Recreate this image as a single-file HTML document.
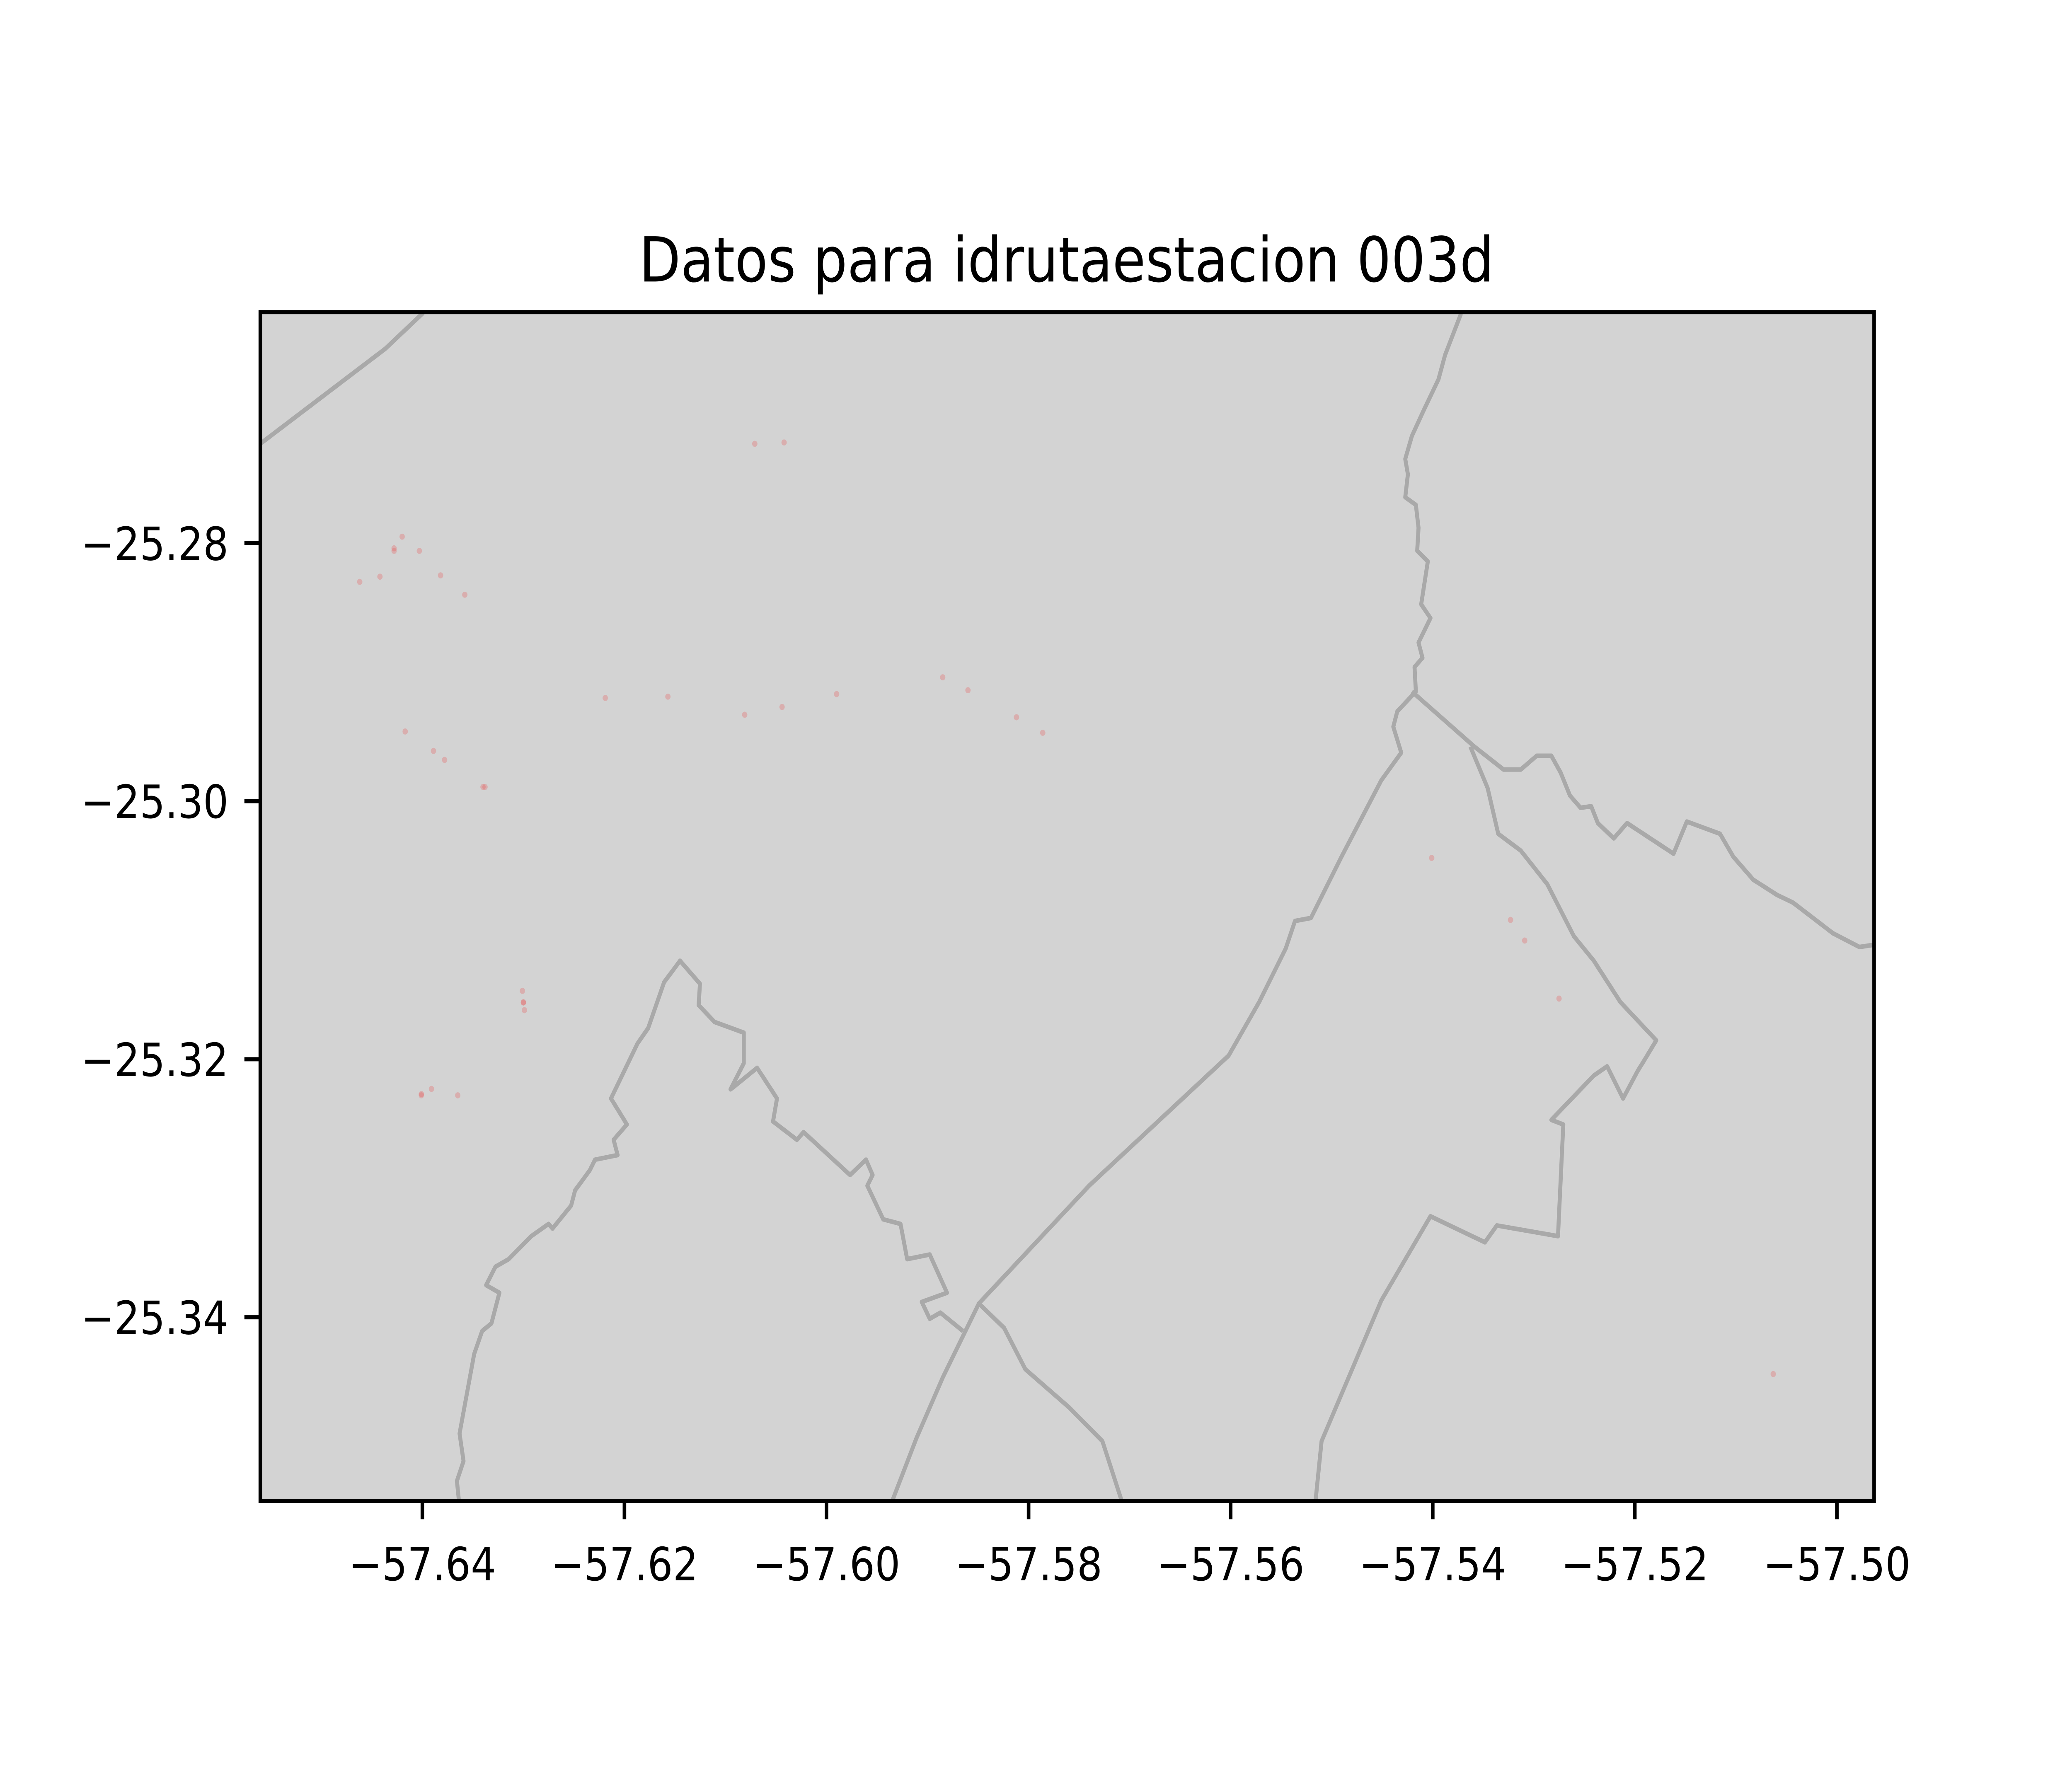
<!DOCTYPE html>
<html><head><meta charset="utf-8">
<style>html,body{margin:0;padding:0;background:#fff;overflow:hidden;width:100%;height:100%;}svg{display:block;position:fixed;left:0;top:0;width:100vw;height:100vh;}</style>
</head><body>
<svg id="chart" viewBox="0 0 1560 1170" preserveAspectRatio="none" xmlns="http://www.w3.org/2000/svg" font-family="DejaVu Sans, Liberation Sans, sans-serif">
<rect x="0" y="0" width="1560" height="1170" fill="#fff"/>
<text x="803" y="184" font-size="40.6" text-anchor="middle">Datos para idrutaestacion 003d</text>
<defs><clipPath id="clip"><rect x="196" y="204" width="1215" height="777"/></clipPath></defs>
<rect x="196" y="204" width="1215" height="777" fill="#d3d3d3"/>
<g clip-path="url(#clip)" fill="none" stroke="#a9a9a9" stroke-width="3" stroke-linejoin="round">
<polyline points="190,294 290,228 318,205 322,200"/>
<polyline points="1100,205 1088,232 1083,248 1072,268 1063,285 1058,300 1060,310 1058,325 1066,330 1068,345 1067,360 1075,367 1070,395 1077,404 1068,420 1071,430 1065,436 1066,452 1052,465 1049,475 1055,492 1040,510 1010,560 987,600 975,602 968,620 948,655 925,690 820,775 737,852 710,900 690,940 670,985"/>
<polyline points="1063,452 1110,488 1132,503 1145,503 1157,494 1168,494 1175,505 1182,520 1190,528 1198,527 1203,538 1215,548 1225,538 1260,558 1270,537 1295,545 1305,560 1320,575 1338,585 1350,590 1365,600 1380,610 1400,619 1415,617"/>
<polyline points="1107,488 1120,515 1128,545 1145,556 1165,578 1185,612 1200,628 1220,655 1247,680 1238,693 1233,700 1222,718 1210,697 1200,703 1168,732 1177,735 1173,808 1127,801 1118,812 1077,795 1040,850 995,942 990,985"/>
<polyline points="737,852 756,868 772,895 805,920 830,942 846,985"/>
<polyline points="346,985 344,968 349,955 346,937 357,885 363,870 370,865 376,845 366,840 373,828 383,823 400,808 413,800 416,803 430,788 433,778 444,765 448,758 465,755 462,745 472,735 460,718 480,682 488,672 500,642 512,628 527,643 526,657 538,668 560,675 560,695 550,712 553,710 570,698 585,718 582,733 600,745 605,740 640,768 652,758 657,768 653,775 665,797 678,800 683,823 700,820 713,845 694,851 700,862 708,858 725,870"/>
</g>
<g id="points" clip-path="url(#clip)"></g>
<rect x="196" y="204" width="1215" height="777" fill="none" stroke="#000" stroke-width="2.7"/>
<g id="xaxis"></g>
<g id="yaxis"></g>
</svg>
<script>
const lons = [-57.6042,-57.6071,-57.6428,-57.6428,-57.6420,-57.6403,-57.6462,-57.6442,-57.6382,-57.6358,-57.6417,-57.6389,-57.6378,-57.6340,-57.6338,-57.6219,-57.6157,-57.6081,-57.6044,-57.5990,-57.5885,-57.5860,-57.5812,-57.5786,-57.6301,-57.6300,-57.6300,-57.6299,-57.6401,-57.6401,-57.6391,-57.6365,-57.5401,-57.5323,-57.5309,-57.5275,-57.5063];
const lats = [-25.2722,-25.2723,-25.2804,-25.2806,-25.2795,-25.2806,-25.2830,-25.2826,-25.2825,-25.2840,-25.2946,-25.2961,-25.2968,-25.2989,-25.2989,-25.2920,-25.2919,-25.2933,-25.2927,-25.2917,-25.2904,-25.2914,-25.2935,-25.2947,-25.3147,-25.3156,-25.3156,-25.3162,-25.3227,-25.3228,-25.3223,-25.3228,-25.3044,-25.3092,-25.3108,-25.3153,-25.3444];
const xTicks = [-57.64,-57.62,-57.60,-57.58,-57.56,-57.54,-57.52,-57.50];
const yTicks = [-25.28,-25.30,-25.32,-25.34];
const xTickLabels = ["−57.64","−57.62","−57.60","−57.58","−57.56","−57.54","−57.52","−57.50"];
const yTickLabels = ["−25.28","−25.30","−25.32","−25.34"];

const NS='http://www.w3.org/2000/svg';
function sx(lon){ return 318 + (lon - (-57.64)) / 0.02 * 152.14; }
function sy(lat){ return 355 + ((-25.28) - lat) / 0.02 * 168.67; }

const pg = document.getElementById('points');
for (let i=0;i<lons.length;i++){
  const c=document.createElementNS(NS,'circle');
  c.setAttribute('cx',sx(lons[i])); c.setAttribute('cy',sy(lats[i])); c.setAttribute('r',2);
  c.setAttribute('fill','rgba(235,80,80,0.28)');
  
  
  pg.appendChild(c);
}
const xa=document.getElementById('xaxis');
xTicks.forEach((t,i)=>{
  const x=sx(t);
  const l=document.createElementNS(NS,'line');
  l.setAttribute('x1',x);l.setAttribute('x2',x);l.setAttribute('y1',981);l.setAttribute('y2',993);
  l.setAttribute('stroke','#000');l.setAttribute('stroke-width',2.7);
  
  
  xa.appendChild(l);
  const tx=document.createElementNS(NS,'text');
  tx.setAttribute('x',x);tx.setAttribute('y',1033);tx.setAttribute('font-size',30);tx.setAttribute('text-anchor','middle');
  tx.textContent=xTickLabels[i];
  
  
  xa.appendChild(tx);
});
const ya=document.getElementById('yaxis');
yTicks.forEach((t,i)=>{
  const y=sy(t);
  const l=document.createElementNS(NS,'line');
  l.setAttribute('x1',184);l.setAttribute('x2',196);l.setAttribute('y1',y);l.setAttribute('y2',y);
  l.setAttribute('stroke','#000');l.setAttribute('stroke-width',2.7);
  
  
  ya.appendChild(l);
  const tx=document.createElementNS(NS,'text');
  tx.setAttribute('x',172);tx.setAttribute('y',y+11);tx.setAttribute('font-size',30);tx.setAttribute('text-anchor','end');
  tx.textContent=yTickLabels[i];
  
  
  ya.appendChild(tx);
});
</script>
</body></html>
